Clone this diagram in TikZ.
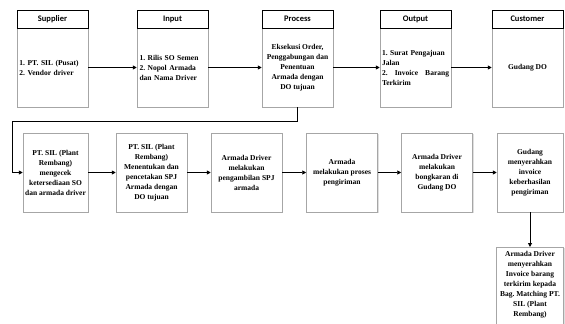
\documentclass[tikz,border=0pt]{standalone}
\usepackage{fontspec}
\setmainfont{Liberation Serif}
\newfontfamily\hdrfont{Carlito}
\usetikzlibrary{shadows,arrows.meta}
\frenchspacing
\tikzset{
  hdr/.style={draw=black, line width=0.8pt, fill=white, minimum width=71pt, minimum height=18pt,
    inner sep=0pt, font=\hdrfont\bfseries\fontsize{8.5}{10}\selectfont,
    drop shadow={shadow xshift=1pt, shadow yshift=-1pt, opacity=0.35}},
  body/.style={draw=gray!70, line width=0.5pt, fill=white, minimum width=71pt, minimum height=79pt,
    inner sep=1.5pt, align=center, font=\frenchspacing\bfseries\fontsize{7.5}{10}\selectfont,
    drop shadow={shadow xshift=1pt, shadow yshift=-1pt, opacity=0.25}},
  txt/.style={inner sep=0pt, align=center, font=\frenchspacing\bfseries\fontsize{7.5}{10}\selectfont},
  conn/.style={line width=0.9pt, -{Triangle[length=4pt,width=4pt]}}
}
\begin{document}
\begin{tikzpicture}[x=1pt,y=-1pt]
\useasboundingbox (0,0) rectangle (565,324);
% top row
\node[body, align=left, text width=66pt] (supB) at (52.5,67.5) {1. PT. SIL (Pusat)\\2. Vendor driver};
\node[hdr] (supH) at (52.5,19) {Supplier};
\node[body, align=left, text width=66pt] (inB) at (172.5,67.5) {1. Rilis SO Semen\\2. Nopol Armada\\dan Nama Driver};
\node[hdr] (inH) at (172.5,19) {Input};
\node[body] (prB) at (297.5,67.5) {Eksekusi Order,\\Penggabungan dan\\Penentuan\\Armada dengan\\DO tujuan};
\node[hdr] (prH) at (297.5,19) {Process};
\node[body, align=left, text width=67pt] (outB) at (415.5,67.5) {1. Surat Pengajuan\\Jalan\\\leavevmode\hbox to 67pt{2.\hfill Invoice\hfill Barang}\\Terkirim};
\node[hdr] (outH) at (415.5,19) {Output};
\node[body] (cusB) at (527.5,67.5) {Gudang DO};
\node[hdr] (cusH) at (527.5,19) {Customer};
\draw[conn] (supB) -- (inB);
\draw[conn] (inB) -- (prB);
\draw[conn] (prB) -- (outB);
\draw[conn] (outB) -- (cusB);
% second row
\node[body, minimum width=65pt] (b1) at (55.5,172.5) {PT. SIL (Plant\\Rembang)\\mengecek\\ketersediaan SO\\dan armada driver};
\node[body] (b2) at (151.5,172.5) {PT. SIL (Plant\\Rembang)\\Menentukan dan\\pencetakan SPJ\\Armada dengan\\DO tujuan};
\node[body] (b3) at (246.5,172.5) {Armada Driver\\melakukan\\pengambilan SPJ\\armada};
\node[body] (b4) at (342,172.5) {Armada\\melakukan proses\\pengiriman};
\node[body] (b5) at (437,172.5) {Armada Driver\\melakukan\\bongkaran di\\Gudang DO};
\node[body, minimum width=66pt] (b6) at (530,172.5) {Gudang\\menyerahkan\\invoice\\keberhasilan\\pengiriman};
\node[body, minimum width=67pt, minimum height=82pt, anchor=north] (b7) at (530,247) {};
\node[txt, anchor=north] (b7t) at (530,251) {Armada Driver\\menyerahkan\\Invoice barang\\terkirim kepada\\Bag. Matching PT.\\SIL (Plant\\Rembang)};
\coordinate (t1) at (297.5,121);
\coordinate (t2) at (12,121);
\coordinate (t3) at (12,172.5);
\draw[conn] (prB.south) -- (t1) -- (t2) -- (t3) -- (b1.west);
\draw[conn] (b1) -- (b2);
\draw[conn] (b2) -- (b3);
\draw[conn] (b3) -- (b4);
\draw[conn] (b4) -- (b5);
\draw[conn] (b5) -- (b6);
\draw[conn] (b6) -- (b7);
\end{tikzpicture}
\end{document}
